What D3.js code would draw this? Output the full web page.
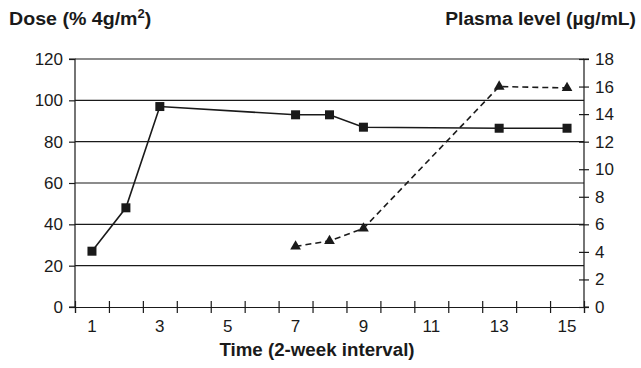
<!DOCTYPE html>
<html><head><meta charset="utf-8">
<script src="https://cdn.jsdelivr.net/npm/d3@7"></script>
<style>
body{margin:0;background:#fff;}
svg text{font-family:"Liberation Sans",Arial,Helvetica,sans-serif;fill:#1a1a1a;}
</style></head>
<body><svg id="c" width="641" height="368"></svg>
<script>
const categories = [1,2,3,4,5,6,7,8,9,10,11,12,13,14,15];
const xTickLabels = [1,3,5,7,9,11,13,15];
const leftTicks = [0,20,40,60,80,100,120];
const rightTicks = [0,2,4,6,8,10,12,14,16,18];
const doseTime = [1,2,3,7,8,9,13,15];
const doseValues = [27,48,97,93,93,87,86.5,86.5];
const plasmaTime = [7,8,9,13,15];
const plasmaValues = [4.4,4.8,5.7,16,15.9];

const svg = d3.select("#c");
const L=75,R=584,T=59,B=307;
const x = d3.scaleBand().domain(categories).range([L,R]).padding(0);
const xc = d => x(d)+x.bandwidth()/2;
const xEdge = d3.scaleLinear().domain([0.5,15.5]).range([L,R]);
const yL = d3.scaleLinear().domain([0,120]).range([B,T]);
const yR = d3.scaleLinear().domain([0,18]).range([B,T]);

// gridlines
svg.append("g").selectAll("line").data(leftTicks.filter(d=>d>0)).join("line")
  .attr("x1",L).attr("x2",R).attr("y1",d=>yL(d)).attr("y2",d=>yL(d))
  .attr("stroke","#1a1a1a").attr("stroke-width",1.2);

// left axis
const gl = svg.append("g").attr("transform",`translate(${L},0)`)
  .call(d3.axisLeft(yL).tickValues(leftTicks).tickSize(6).tickPadding(6));
// right axis
const gr = svg.append("g").attr("transform",`translate(${R},0)`)
  .call(d3.axisRight(yR).tickValues(rightTicks).tickSize(5).tickPadding(6));
gr.selectAll(".tick line").attr("x1",-5);
// bottom axis
const gb = svg.append("g").attr("transform",`translate(0,${B})`)
  .call(d3.axisBottom(xEdge).tickValues(d3.range(0.5,15.6,1)).tickSize(6).tickFormat(""));
gb.selectAll(".tick line").attr("y1",-6);
[gl,gr,gb].forEach(g=>{
  g.select(".domain").attr("stroke","#1a1a1a").attr("stroke-width",1.2);
  g.selectAll(".tick line").attr("stroke","#1a1a1a").attr("stroke-width",1.2);
  g.selectAll("text").attr("font-size",17).attr("fill","#1a1a1a");
});
gl.select(".domain").attr("d",`M-6,${T}H0V${B}H-6`);
gr.select(".domain").attr("d",`M5,${T}H0V${B}H5`);

// x tick labels
svg.append("g").selectAll("text").data(xTickLabels).join("text")
  .attr("x",d=>xc(d)).attr("y",332).attr("text-anchor","middle")
  .attr("font-size",17).text(d=>d);

// dose line
svg.append("path").datum(doseTime.map((t,i)=>[t,doseValues[i]]))
  .attr("fill","none").attr("stroke","#1a1a1a").attr("stroke-width",1.6)
  .attr("d",d3.line().x(d=>xc(d[0])).y(d=>yL(d[1])));
svg.append("g").selectAll("rect").data(doseTime.map((t,i)=>[t,doseValues[i]])).join("rect")
  .attr("x",d=>xc(d[0])-4.5).attr("y",d=>yL(d[1])-4.5).attr("width",9).attr("height",9)
  .attr("fill","#1a1a1a");

// plasma line
svg.append("path").datum(plasmaTime.map((t,i)=>[t,plasmaValues[i]]))
  .attr("fill","none").attr("stroke","#1a1a1a").attr("stroke-width",1.6)
  .attr("stroke-dasharray","6,4")
  .attr("d",d3.line().x(d=>xc(d[0])).y(d=>yR(d[1])));
svg.append("g").selectAll("path").data(plasmaTime.map((t,i)=>[t,plasmaValues[i]])).join("path")
  .attr("transform",d=>`translate(${xc(d[0])},${yR(d[1])})`)
  .attr("d",d3.symbol().type(d3.symbolTriangle).size(50))
  .attr("fill","#1a1a1a");

// titles
const t1 = svg.append("text").attr("transform","translate(9,25) scale(1.09,1)")
  .attr("font-size",18).attr("font-weight","bold");
t1.append("tspan").text("Dose (% 4g/m");
t1.append("tspan").attr("font-size",12).attr("dy",-7).text("2");
t1.append("tspan").attr("dy",7).text(")");
svg.append("text").attr("transform","translate(636,25) scale(1.07,1)").attr("text-anchor","end")
  .attr("font-size",18).attr("font-weight","bold").text("Plasma level (µg/mL)");
svg.append("text").attr("transform","translate(317,356) scale(1.04,1)").attr("text-anchor","middle")
  .attr("font-size",18).attr("font-weight","bold").text("Time (2-week interval)");
</script></body></html>
